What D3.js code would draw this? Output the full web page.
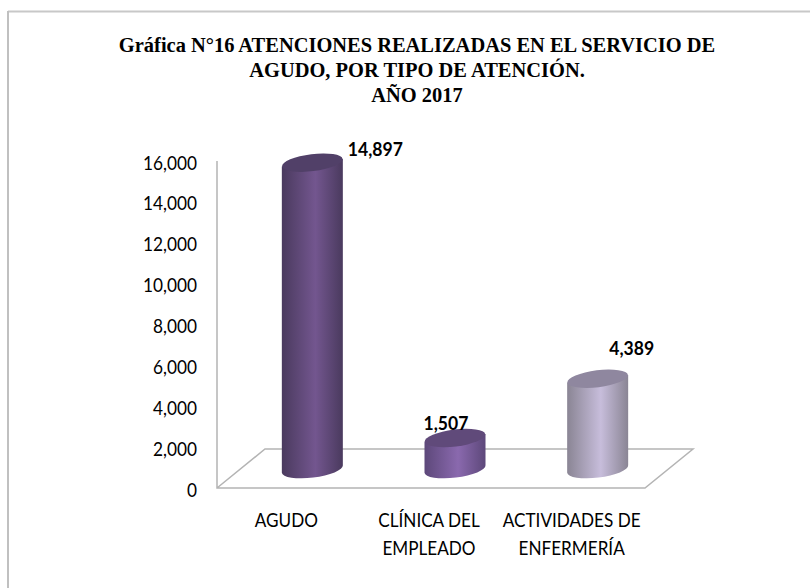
<!DOCTYPE html>
<html>
<head>
<meta charset="utf-8">
<script src="https://cdn.jsdelivr.net/npm/d3@7"></script>
<style>
 html,body{margin:0;padding:0;background:#fff;}
 svg{display:block;}
</style>
</head>
<body>
<div id="chartDiv"></div>
<script>
//Chart values
var titleLines = ["Gráfica N°16 ATENCIONES REALIZADAS EN EL SERVICIO DE", "AGUDO, POR TIPO DE ATENCIÓN.", "AÑO 2017"];
var categories = ["AGUDO", "CLÍNICA DEL|EMPLEADO", "ACTIVIDADES DE|ENFERMERÍA"];
var values = [14897, 1507, 4389];
var valueLabels = ["14,897", "1,507", "4,389"];
var yTicks = [0, 2000, 4000, 6000, 8000, 10000, 12000, 14000, 16000];
var barEdge = ["#4a3a5e", "#5d487a", "#8a8594"];
var barMid = ["#73568f", "#8a69ae", "#c7bddb"];
var barTop = ["#514068", "#604a7a", "#8f879f"];

var width = 810, height = 588;
var depthX = 48, depthY = 39;		//Floor offset, front edge to back edge
var bodyFont = "Lato, 'Open Sans', sans-serif";

var svg = d3.select("#chartDiv").append("svg")
  .attr("width", width)
  .attr("height", height);

//Page frame, only top and left sides show
svg.append("line").attr("x1", 8).attr("x2", width).attr("y1", 11.5).attr("y2", 11.5)
  .attr("stroke", "#c8c8c8").attr("stroke-width", 2);
svg.append("line").attr("x1", 8).attr("x2", 8).attr("y1", 11).attr("y2", height)
  .attr("stroke", "#c0c0c0").attr("stroke-width", 2);

svg.selectAll(".title")
  .data(titleLines)
  .enter().append("text")
  .attr("class", "title")
  .attr("transform", function(d, i) { return "translate(417," + (52 + i * 25) + ")scale(.93,1)"; })
  .attr("text-anchor", "middle")
  .style("font-family", "'Liberation Serif', serif")
  .style("font-weight", "bold")
  .style("font-size", "22px")
  .text(function(d) { return d; });

var xScale = d3.scaleBand().domain(categories).range([217, 645]);
var yScale = d3.scaleLinear().domain([0, 16000]).range([488, 161]);
//Cylinders stand mid way back on the floor, so they get their own baseline
var barScale = d3.scaleLinear().domain([0, 16000]).range([469, 140]);

//Floor and wall lines
var x0 = xScale.range()[0], x1 = xScale.range()[1], y0 = yScale(0);
var floor = d3.path();
floor.moveTo(x0, yScale(16000));
floor.lineTo(x0, y0);
floor.lineTo(x1, y0);
floor.lineTo(x1 + depthX, y0 - depthY);
floor.lineTo(x0 + depthX, y0 - depthY);
floor.lineTo(x0, y0);
svg.append("path")
  .attr("d", floor.toString())
  .attr("fill", "none")
  .attr("stroke", "#b4b4b4")
  .attr("stroke-width", 1.5);

//Y axis, tick marks hidden. Labels squeezed sideways since Lato is wider than the original face
var yAxis = svg.append("g")
  .attr("transform", "translate(" + x0 + ",0)")
  .call(d3.axisLeft(yScale).tickValues(yTicks).tickSize(0).tickFormat(d3.format(",")));
yAxis.select(".domain").remove();
yAxis.selectAll("text")
  .attr("x", 0)
  .attr("dy", 8)
  .attr("transform", "translate(-20,0)scale(.885,1)")
  .style("font-family", bodyFont)
  .style("font-size", "19.5px")
  .attr("fill", "#000");

//Category labels
var catText = svg.selectAll(".cat")
  .data(categories)
  .enter().append("g")
  .attr("class", "cat")
  .attr("transform", function(d) {
   return "translate(" + (xScale(d) + xScale.bandwidth() / 2 - 2) + ",527)scale(.857,1)";
  });
catText.selectAll("text")
  .data(function(d) { return d.split("|"); })
  .enter().append("text")
  .attr("y", function(d, i) { return i * 28; })
  .attr("text-anchor", "middle")
  .style("font-family", bodyFont)
  .style("font-size", "20px")
  .text(function(d) { return d; });

//Gradients for the cylinder bodies
var defs = svg.append("defs");
categories.forEach(function(c, i) {
 var g = defs.append("linearGradient").attr("id", "bar" + i)
  .attr("x1", "0").attr("y1", "0").attr("x2", "1").attr("y2", "0");
 g.append("stop").attr("offset", "0%").attr("stop-color", barEdge[i]);
 g.append("stop").attr("offset", "55%").attr("stop-color", barMid[i]);
 g.append("stop").attr("offset", "100%").attr("stop-color", barEdge[i]);
});

var rx = 30.5, ry = 8.5, tilt = -7;
var tiltDy = rx * Math.sin(-tilt * Math.PI / 180);
function cx(c) { return xScale(c) + xScale.bandwidth() / 2 + depthX / 2; }

var bars = svg.selectAll(".bar")
  .data(categories)
  .enter().append("g")
  .attr("class", "bar");

bars.append("path")				//Side of the cylinder
  .attr("d", function(c, i) {
   var x = cx(c), t = barScale(values[i]), b = barScale(0);
   return "M" + (x - rx) + "," + (t + tiltDy) +
    "L" + (x - rx) + "," + (b + tiltDy) +
    "A" + rx + "," + ry + " " + tilt + " 0 0 " + (x + rx) + "," + (b - tiltDy) +
    "L" + (x + rx) + "," + (t - tiltDy) + "Z";
  })
  .attr("fill", function(c, i) { return "url(#bar" + i + ")"; });

bars.append("ellipse")				//Top cap
  .attr("cx", 0).attr("cy", 0)
  .attr("rx", rx).attr("ry", ry)
  .attr("transform", function(c, i) {
   return "translate(" + cx(c) + "," + barScale(values[i]) + ")rotate(" + tilt + ")";
  })
  .attr("fill", function(c, i) { return barTop[i]; });

//Value labels, placed beside or above the caps
var labelDx = [63, -9, 34], labelDy = [-7, -8, -24];
svg.selectAll(".val")
  .data(categories)
  .enter().append("text")
  .attr("class", "val")
  .attr("transform", function(c, i) {
   return "translate(" + (cx(c) + labelDx[i]) + "," + (barScale(values[i]) + labelDy[i]) + ")scale(.9,1)";
  })
  .attr("text-anchor", "middle")
  .style("font-family", bodyFont)
  .style("font-weight", "bold")
  .style("font-size", "19.5px")
  .text(function(c, i) { return valueLabels[i]; });
</script>
</body>
</html>
